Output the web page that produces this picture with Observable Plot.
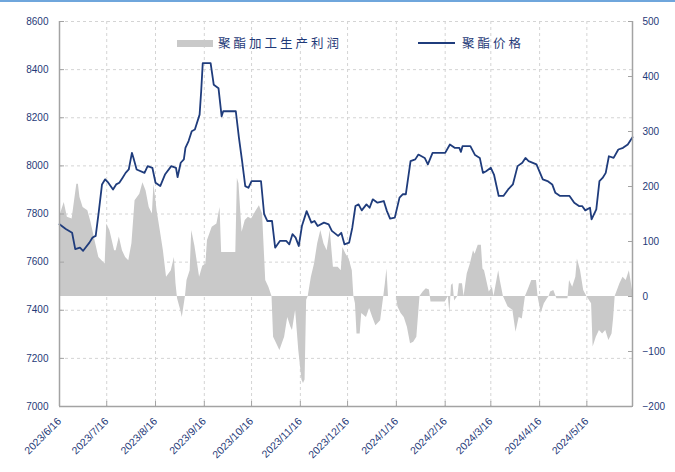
<!DOCTYPE html>
<html>
<head>
<meta charset="utf-8">
<script src="https://cdn.jsdelivr.net/npm/d3@7"></script>
<script src="https://cdn.jsdelivr.net/npm/@observablehq/plot@0.6"></script>
<style>
  html, body { margin: 0; padding: 0; background: #fff; }
  #wrap { position: relative; width: 675px; height: 472px; overflow: hidden; background: #fff; }
  #topline { position: absolute; left: 0; top: 0; width: 675px; height: 2px; background: #6fa6dc; }
  .leg { position: absolute; font-family: "Noto Sans CJK SC", sans-serif; font-size: 12.5px; color: #1f3a78; letter-spacing: 3px; line-height: 14px; white-space: nowrap; }
  .sw { position: absolute; }
</style>
</head>
<body>
<div id="wrap">
  <div id="chart"></div>
  <div id="topline"></div>
  <div class="sw" style="left:177px;top:40px;width:36px;height:7px;background:#c9c9c9;"></div>
  <div class="leg" style="left:218px;top:36px;">聚酯加工生产利润</div>
  <div class="sw" style="left:418px;top:42px;width:37px;height:2px;background:#1f3c7c;"></div>
  <div class="leg" style="left:462px;top:36px;">聚酯价格</div>
</div>
<script>
// ---- tick values / labels ----
const leftTicks = [7000, 7200, 7400, 7600, 7800, 8000, 8200, 8400, 8600];
const rightTicks = [-200, -100, 0, 100, 200, 300, 400, 500];
const xTickDates = ["2023-06-16","2023-07-16","2023-08-16","2023-09-16","2023-10-16","2023-11-16","2023-12-16","2024-01-16","2024-02-16","2024-03-16","2024-04-16","2024-05-16"];
const xTickLabels = ["2023/6/16","2023/7/16","2023/8/16","2023/9/16","2023/10/16","2023/11/16","2023/12/16","2024/1/16","2024/2/16","2024/3/16","2024/4/16","2024/5/16"];
const xDomain = ["2023-06-16", "2024-06-14"];

// ---- polyester price (left axis) ----
const priceDates = ["2023-06-16","2023-06-20","2023-06-24","2023-06-26","2023-06-29","2023-07-01","2023-07-05","2023-07-07","2023-07-09","2023-07-11","2023-07-13","2023-07-15","2023-07-17","2023-07-20","2023-07-22","2023-07-24","2023-07-26","2023-07-28","2023-07-30","2023-08-01","2023-08-02","2023-08-04","2023-08-09","2023-08-11","2023-08-14","2023-08-16","2023-08-19","2023-08-22","2023-08-26","2023-08-29","2023-08-30","2023-09-01","2023-09-03","2023-09-04","2023-09-06","2023-09-08","2023-09-10","2023-09-13","2023-09-14","2023-09-15","2023-09-20","2023-09-22","2023-09-25","2023-09-27","2023-09-28","2023-10-06","2023-10-08","2023-10-10","2023-10-12","2023-10-14","2023-10-16","2023-10-22","2023-10-24","2023-10-26","2023-10-29","2023-10-31","2023-11-03","2023-11-07","2023-11-09","2023-11-11","2023-11-13","2023-11-15","2023-11-17","2023-11-20","2023-11-23","2023-11-25","2023-11-27","2023-12-01","2023-12-04","2023-12-06","2023-12-10","2023-12-12","2023-12-14","2023-12-17","2023-12-19","2023-12-21","2023-12-23","2023-12-25","2023-12-28","2023-12-30","2024-01-01","2024-01-04","2024-01-08","2024-01-10","2024-01-12","2024-01-15","2024-01-18","2024-01-20","2024-01-22","2024-01-25","2024-01-28","2024-01-30","2024-02-03","2024-02-05","2024-02-08","2024-02-16","2024-02-19","2024-02-22","2024-02-25","2024-02-26","2024-02-27","2024-03-03","2024-03-06","2024-03-09","2024-03-11","2024-03-13","2024-03-16","2024-03-18","2024-03-21","2024-03-24","2024-03-27","2024-03-30","2024-04-02","2024-04-05","2024-04-07","2024-04-09","2024-04-14","2024-04-18","2024-04-21","2024-04-24","2024-04-26","2024-04-29","2024-05-05","2024-05-08","2024-05-11","2024-05-13","2024-05-15","2024-05-18","2024-05-19","2024-05-22","2024-05-24","2024-05-26","2024-05-28","2024-05-30","2024-06-02","2024-06-05","2024-06-08","2024-06-11","2024-06-14"];
const priceValues = [7757,7738,7722,7654,7660,7647,7681,7702,7709,7812,7923,7944,7930,7902,7923,7930,7950,7971,7985,8054,8033,7985,7971,7999,7992,7930,7916,7964,7999,7992,7953,8013,8027,8075,8103,8144,8151,8213,8310,8427,8427,8337,8323,8206,8227,8227,8116,8020,7916,7909,7937,7937,7799,7771,7771,7660,7688,7688,7674,7716,7702,7667,7750,7812,7764,7771,7750,7764,7757,7730,7709,7722,7674,7681,7743,7833,7840,7815,7840,7826,7861,7847,7854,7812,7781,7785,7868,7882,7882,8020,8027,8047,8033,8006,8054,8054,8089,8075,8075,8058,8082,8082,8045,8033,7971,7978,7992,7964,7875,7875,7902,7923,7999,8013,8033,8020,8006,7944,7937,7923,7888,7875,7875,7847,7833,7833,7815,7826,7778,7819,7937,7950,7971,8040,8033,8068,8075,8089,8119];

// ---- polyester processing profit (right axis) ----
const profitDates = ["2023-06-16","2023-06-19","2023-06-21","2023-06-24","2023-06-25","2023-06-27","2023-06-28","2023-06-29","2023-07-01","2023-07-04","2023-07-06","2023-07-09","2023-07-11","2023-07-13","2023-07-15","2023-07-16","2023-07-18","2023-07-21","2023-07-22","2023-07-24","2023-07-26","2023-07-28","2023-07-30","2023-08-01","2023-08-03","2023-08-06","2023-08-08","2023-08-10","2023-08-12","2023-08-14","2023-08-15","2023-08-17","2023-08-19","2023-08-21","2023-08-23","2023-08-26","2023-08-28","2023-08-29","2023-08-30","2023-09-01","2023-09-02","2023-09-04","2023-09-05","2023-09-07","2023-09-08","2023-09-10","2023-09-13","2023-09-15","2023-09-17","2023-09-18","2023-09-21","2023-09-24","2023-09-26","2023-09-27","2023-10-06","2023-10-07","2023-10-08","2023-10-10","2023-10-12","2023-10-14","2023-10-16","2023-10-19","2023-10-21","2023-10-23","2023-10-25","2023-10-27","2023-10-29","2023-10-30","2023-10-31","2023-11-03","2023-11-06","2023-11-08","2023-11-10","2023-11-11","2023-11-13","2023-11-15","2023-11-17","2023-11-18","2023-11-19","2023-11-20","2023-11-21","2023-11-23","2023-11-25","2023-11-27","2023-11-29","2023-12-01","2023-12-03","2023-12-05","2023-12-07","2023-12-10","2023-12-12","2023-12-13","2023-12-15","2023-12-17","2023-12-19","2023-12-20","2023-12-21","2023-12-22","2023-12-24","2023-12-25","2023-12-28","2023-12-30","2024-01-01","2024-01-03","2024-01-06","2024-01-08","2024-01-09","2024-01-10","2024-01-11","2024-01-16","2024-01-17","2024-01-19","2024-01-21","2024-01-23","2024-01-25","2024-01-27","2024-01-29","2024-01-31","2024-02-02","2024-02-04","2024-02-06","2024-02-07","2024-02-16","2024-02-18","2024-02-19","2024-02-20","2024-02-21","2024-02-22","2024-02-24","2024-02-25","2024-02-27","2024-02-28","2024-03-01","2024-03-03","2024-03-05","2024-03-06","2024-03-08","2024-03-10","2024-03-11","2024-03-12","2024-03-15","2024-03-17","2024-03-18","2024-03-21","2024-03-22","2024-03-24","2024-03-27","2024-03-30","2024-04-01","2024-04-03","2024-04-05","2024-04-07","2024-04-09","2024-04-11","2024-04-14","2024-04-15","2024-04-17","2024-04-19","2024-04-21","2024-04-22","2024-04-23","2024-04-25","2024-04-27","2024-05-04","2024-05-05","2024-05-07","2024-05-09","2024-05-10","2024-05-12","2024-05-14","2024-05-16","2024-05-19","2024-05-20","2024-05-22","2024-05-24","2024-05-26","2024-05-28","2024-05-30","2024-06-01","2024-06-02","2024-06-03","2024-06-06","2024-06-08","2024-06-10","2024-06-12","2024-06-14"];
const profitValues = [144,171,144,141,162,204,204,180,162,156,135,96,71,65,59,132,120,83,83,108,83,71,65,96,174,186,207,192,162,150,204,156,120,83,35,47,71,23,-4,-25,-38,0,29,47,120,92,35,55,59,102,126,132,162,80,80,215,205,117,138,144,141,156,165,150,29,17,0,-74,-80,-98,-74,-38,-56,-62,-25,-98,-152,-158,-152,-7,0,35,59,96,120,96,83,120,53,53,47,89,77,68,47,0,-13,-68,-68,-31,-38,-22,-38,-53,-44,0,23,50,0,0,-19,-31,-38,-56,-86,-83,-74,0,8,14,12,-10,-10,0,-31,20,23,-8,0,23,23,0,41,59,83,77,93,93,50,47,8,17,0,47,29,0,-19,-25,-65,-38,-41,0,14,29,29,0,-31,-13,-4,0,8,11,-4,-4,29,17,35,68,47,11,0,-13,-92,-74,-62,-68,-62,-80,-68,-40,0,23,35,29,47,11];

// ---- build ----
const NAVY = "#1f3a78";
const AXIS = "#a3a3a3";
const GRID = "#d4d4d4";
const toLeft = d3.scaleLinear().domain([-200, 500]).range([7000, 8600]);
const base = toLeft(0);
const price = priceDates.map((d, i) => ({date: new Date(d), v: priceValues[i]}));
const profit = profitDates.map((d, i) => ({date: new Date(d), v: toLeft(profitValues[i])}));
const xt = xTickDates.map(d => new Date(d));
const xd = xDomain.map(d => new Date(d));
const labelOf = new Map(xt.map((d, i) => [+d, xTickLabels[i]]));

const chart = Plot.plot({
  width: 675,
  height: 472,
  marginLeft: 59,
  marginRight: 43,
  marginTop: 21,
  marginBottom: 66,
  style: {fontFamily: "'Liberation Sans', Arial, sans-serif", fontSize: "10px", color: NAVY, background: "transparent"},
  x: {type: "utc", domain: xd},
  y: {domain: [7000, 8600]},
  marks: [
    Plot.gridX(xt, {stroke: GRID, strokeOpacity: 1, strokeDasharray: "3,3"}),
    Plot.gridY(leftTicks, {stroke: GRID, strokeOpacity: 1, strokeDasharray: "3,3"}),
    Plot.areaY(profit, {x: "date", y1: () => base, y2: "v", fill: "#c9c9c9"}),
    Plot.lineY(price, {x: "date", y: "v", stroke: "#1f3c7c", strokeWidth: 1.8}),
    Plot.ruleX(xd, {stroke: AXIS, strokeWidth: 1.5}),
    Plot.ruleY([7000], {stroke: AXIS, strokeWidth: 1.5}),
    Plot.axisY({anchor: "left", ticks: leftTicks, tickSize: -5, tickPadding: 16, stroke: AXIS, fill: NAVY, label: null, tickFormat: d => String(d)}),
    Plot.axisY({anchor: "right", ticks: rightTicks.map(toLeft), tickSize: -5, tickPadding: 15, stroke: AXIS, fill: NAVY, label: null,
      tickFormat: d => String(Math.round(toLeft.invert(d))).replace("-", "\u2212")}),
    Plot.axisX({ticks: xt, tickSize: -5, tickPadding: 18, tickRotate: -45, stroke: AXIS, fill: NAVY, label: null, fontSize: 10.5,
      tickFormat: d => labelOf.get(+d)})
  ]
});
document.getElementById("chart").appendChild(chart);
</script>
</body>
</html>
